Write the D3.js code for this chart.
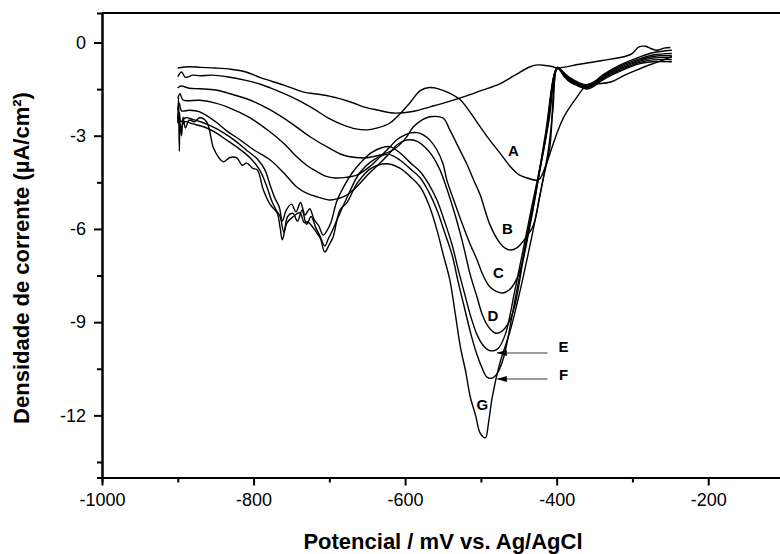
<!DOCTYPE html>
<html>
<head>
<meta charset="utf-8">
<script src="https://cdn.jsdelivr.net/npm/d3@7"></script>
<style>
  body { margin: 0; background: #fff; }
  svg { display: block; font-family: Arial, "Liberation Sans", sans-serif; }
  .axis path, .axis line { stroke: #000; stroke-width: 2; }
  .axis text { font-size: 18px; fill: #000; }
  .curve { fill: none; stroke: #000; stroke-width: 1.4; stroke-linejoin: round; }
</style>
</head>
<body>
<div id="chart"></div>
<script>
// potencial (mV vs Ag/AgCl), densidade de corrente (uA/cm2)
const curveBlank = [[-900,-0.82],[-885,-0.78],[-870,-0.80],[-850,-0.82],[-830,-0.86],[-810,-0.95],[-790,-1.14],[-760,-1.37],[-735,-1.59],[-710,-1.68],[-690,-1.78],[-670,-1.93],[-655,-2.07],[-635,-2.18],[-616,-2.27],[-590,-2.22],[-567,-2.07],[-545,-1.92],[-523,-1.75],[-500,-1.55],[-475,-1.33],[-455,-1.05],[-435,-0.78],[-425,-0.72],[-415,-0.74],[-405,-0.78],[-399,-0.82],[-370,-0.70],[-340,-0.58],[-310,-0.45],[-300,-0.35],[-292,-0.15],[-283,-0.12],[-275,-0.20],[-268,-0.25],[-258,-0.18],[-250,-0.16]];

const curveA = [[-900,-1.10],[-895,-0.95],[-890,-1.12],[-880,-1.05],[-871,-1.07],[-855,-1.05],[-835,-1.10],[-810,-1.22],[-790,-1.35],[-778,-1.46],[-750,-1.75],[-725,-2.07],[-700,-2.45],[-682,-2.65],[-665,-2.78],[-650,-2.81],[-635,-2.74],[-620,-2.59],[-605,-2.25],[-593,-1.92],[-580,-1.55],[-568,-1.45],[-556,-1.49],[-542,-1.62],[-527,-1.85],[-514,-2.25],[-501,-2.71],[-488,-3.15],[-475,-3.55],[-461,-4.00],[-450,-4.25],[-439,-4.36],[-424,-4.42],[-415,-4.00],[-405,-3.29],[-397,-2.75],[-389,-2.33],[-373,-1.75],[-360,-1.36],[-345,-1.33],[-329,-1.27],[-310,-1.05],[-294,-0.88],[-275,-0.70],[-259,-0.56],[-248,-0.45]];

const curveB = [[-900,-1.46],[-896,-1.40],[-885,-1.47],[-871,-1.49],[-850,-1.53],[-835,-1.62],[-805,-1.85],[-778,-2.17],[-750,-2.60],[-725,-3.04],[-700,-3.40],[-682,-3.62],[-665,-3.70],[-650,-3.71],[-633,-3.62],[-616,-3.46],[-600,-3.10],[-589,-2.71],[-577,-2.48],[-567,-2.39],[-550,-2.43],[-541,-2.81],[-530,-3.35],[-518,-3.94],[-510,-4.40],[-501,-4.90],[-488,-5.87],[-475,-6.45],[-468,-6.62],[-461,-6.68],[-452,-6.60],[-444,-6.39],[-431,-5.90],[-422,-4.90],[-411,-3.46],[-405,-2.17],[-399,-0.80],[-390,-0.98],[-382,-1.14],[-370,-1.30],[-360,-1.36],[-350,-1.25],[-339,-1.04],[-316,-0.72],[-290,-0.46],[-273,-0.33],[-248,-0.25]];

const curveC = [[-900,-1.80],[-897,-1.65],[-893,-1.85],[-871,-1.86],[-850,-1.95],[-835,-2.07],[-805,-2.42],[-778,-2.88],[-760,-3.25],[-743,-3.68],[-730,-3.95],[-716,-4.16],[-705,-4.30],[-692,-4.36],[-678,-4.34],[-663,-4.26],[-648,-4.02],[-633,-3.68],[-620,-3.36],[-611,-3.13],[-600,-2.97],[-593,-2.91],[-584,-2.90],[-576,-2.97],[-567,-3.15],[-558,-3.46],[-550,-3.90],[-545,-4.42],[-534,-5.20],[-523,-5.94],[-514,-6.50],[-505,-7.00],[-497,-7.50],[-488,-7.87],[-479,-8.02],[-471,-8.06],[-465,-8.00],[-459,-7.87],[-448,-7.32],[-435,-5.87],[-422,-4.10],[-410,-2.49],[-399,-0.82],[-390,-1.00],[-382,-1.18],[-370,-1.33],[-360,-1.40],[-350,-1.28],[-339,-1.08],[-316,-0.76],[-290,-0.52],[-273,-0.40],[-248,-0.35]];

const curveD = [[-900,-2.17],[-898,-1.95],[-895,-2.20],[-885,-2.18],[-871,-2.23],[-850,-2.55],[-835,-2.85],[-818,-3.13],[-800,-3.45],[-778,-3.78],[-760,-4.20],[-743,-4.65],[-730,-4.85],[-716,-4.97],[-699,-5.07],[-688,-5.02],[-677,-4.91],[-663,-4.62],[-648,-4.22],[-633,-3.88],[-620,-3.55],[-611,-3.30],[-600,-3.15],[-593,-3.13],[-584,-3.18],[-574,-3.36],[-564,-3.65],[-554,-4.10],[-545,-4.70],[-534,-5.55],[-524,-6.45],[-514,-7.48],[-505,-8.20],[-498,-8.77],[-490,-9.15],[-481,-9.35],[-474,-9.32],[-468,-9.19],[-461,-8.90],[-455,-8.45],[-442,-6.68],[-428,-4.91],[-415,-2.97],[-399,-0.85],[-390,-1.02],[-382,-1.20],[-370,-1.35],[-360,-1.42],[-350,-1.30],[-339,-1.10],[-316,-0.80],[-290,-0.56],[-273,-0.45],[-248,-0.42]];

const curveE = [[-900,-2.45],[-898,-2.25],[-896,-2.55],[-890,-2.42],[-880,-2.48],[-870,-2.55],[-855,-2.70],[-840,-2.90],[-825,-3.15],[-810,-3.45],[-795,-3.75],[-785,-4.10],[-778,-4.60],[-772,-5.00],[-766,-5.30],[-762,-5.75],[-757,-5.40],[-750,-5.20],[-744,-5.45],[-738,-5.15],[-732,-5.55],[-726,-5.35],[-720,-5.70],[-714,-5.90],[-708,-6.20],[-703,-6.05],[-698,-5.80],[-690,-5.10],[-680,-4.60],[-670,-4.20],[-660,-3.90],[-645,-3.55],[-630,-3.38],[-620,-3.35],[-607,-3.55],[-594,-3.85],[-580,-4.16],[-569,-4.55],[-558,-5.07],[-548,-5.75],[-538,-6.51],[-530,-7.30],[-521,-8.13],[-513,-8.85],[-505,-9.41],[-497,-9.75],[-490,-9.90],[-483,-9.92],[-477,-9.84],[-468,-9.41],[-455,-7.96],[-435,-5.55],[-415,-3.13],[-399,-0.80],[-390,-1.05],[-382,-1.22],[-370,-1.38],[-360,-1.45],[-350,-1.32],[-339,-1.13],[-316,-0.84],[-290,-0.60],[-273,-0.50],[-248,-0.48]];

const curveF = [[-900,-2.60],[-898,-2.35],[-896,-2.75],[-891,-2.55],[-880,-2.62],[-865,-2.72],[-850,-2.90],[-835,-3.15],[-820,-3.40],[-805,-3.70],[-792,-4.10],[-783,-4.60],[-776,-5.10],[-770,-5.40],[-765,-5.60],[-760,-6.10],[-755,-5.60],[-748,-5.50],[-742,-5.75],[-736,-5.40],[-730,-5.85],[-724,-5.60],[-718,-5.95],[-712,-6.25],[-706,-6.55],[-701,-6.30],[-695,-6.00],[-688,-5.60],[-675,-4.90],[-660,-4.20],[-640,-3.75],[-622,-3.60],[-607,-3.78],[-594,-4.05],[-580,-4.36],[-569,-4.80],[-558,-5.39],[-548,-6.10],[-538,-6.84],[-530,-7.70],[-521,-8.61],[-513,-9.40],[-505,-10.06],[-498,-10.50],[-492,-10.77],[-485,-10.80],[-479,-10.67],[-471,-10.22],[-455,-8.29],[-435,-5.71],[-415,-3.13],[-399,-0.80],[-390,-1.08],[-382,-1.25],[-370,-1.40],[-360,-1.48],[-350,-1.36],[-339,-1.16],[-316,-0.88],[-290,-0.64],[-273,-0.56],[-248,-0.55]];

const curveG = [[-900,-2.55],[-899,-1.75],[-898,-3.50],[-897,-2.60],[-895,-3.00],[-893,-2.40],[-890,-2.75],[-885,-2.50],[-878,-2.55],[-871,-2.42],[-862,-2.55],[-853,-3.39],[-846,-3.70],[-840,-3.84],[-831,-3.70],[-822,-3.71],[-815,-3.95],[-809,-3.88],[-801,-4.05],[-795,-4.10],[-787,-4.75],[-778,-5.22],[-769,-5.48],[-765,-5.95],[-762,-6.35],[-756,-5.81],[-748,-5.61],[-739,-5.48],[-733,-5.80],[-729,-5.77],[-721,-5.97],[-716,-6.15],[-712,-6.29],[-706,-6.74],[-700,-6.50],[-695,-6.26],[-686,-5.39],[-677,-5.16],[-663,-4.52],[-645,-4.05],[-625,-3.90],[-607,-4.04],[-594,-4.30],[-580,-4.65],[-569,-5.20],[-558,-6.03],[-550,-6.80],[-541,-7.64],[-534,-8.70],[-527,-9.80],[-520,-10.60],[-514,-11.41],[-507,-12.00],[-501,-12.57],[-494,-12.72],[-490,-12.25],[-485,-11.41],[-475,-10.32],[-461,-9.25],[-448,-7.96],[-431,-6.03],[-418,-4.42],[-409,-3.36],[-399,-0.82],[-390,-1.10],[-382,-1.28],[-370,-1.42],[-360,-1.50],[-350,-1.40],[-339,-1.20],[-316,-0.92],[-290,-0.68],[-273,-0.62],[-248,-0.62]];

const curves = [curveBlank, curveA, curveB, curveC, curveD, curveE, curveF, curveG];

// curve letters and where they sit (data units)
const labelText = ['A', 'B', 'C', 'D', 'E', 'F', 'G'];
const labelX = [-457, -465, -477, -484, -391, -391, -498];
const labelY = [-3.46, -5.97, -7.39, -8.77, -9.77, -10.67, -11.64];

// arrows for E and F
const arrowY = [-9.99, -10.83];
const arrowFrom = -412;
const arrowTo = -479;

const xTicks = [-1000, -800, -600, -400, -200];
const xMinor = [-900, -700, -500, -300];
const yTicks = [0, -3, -6, -9, -12];
const yMinor = [-1.5, -4.5, -7.5, -10.5, -13.5];

const W = 780, H = 554;
const mLeft = 102, mTop = 13, mBottom = 477.5, mRight = 784;

const svg = d3.select('#chart').append('svg')
  .attr('width', W)
  .attr('height', H);

const x = d3.scaleLinear().domain([-1000, -100]).range([mLeft, mRight]);
const y = d3.scaleLinear().domain([-14, 0.95]).range([mBottom, mTop]);

// minor ticks
svg.append('g')
  .attr('class', 'axis')
  .attr('transform', `translate(0,${mBottom})`)
  .call(d3.axisBottom(x).tickValues(xMinor).tickSize(5).tickFormat(''));
svg.append('g')
  .attr('class', 'axis')
  .attr('transform', `translate(${mLeft},0)`)
  .call(d3.axisLeft(y).tickValues(yMinor).tickSize(5).tickFormat(''));

svg.append('g')
  .attr('class', 'axis')
  .attr('transform', `translate(0,${mBottom})`)
  .call(d3.axisBottom(x).tickValues(xTicks).tickSize(8).tickPadding(8).tickSizeOuter(0)
    .tickFormat(d => String(d)));

svg.append('g')
  .attr('class', 'axis')
  .attr('transform', `translate(${mLeft},0)`)
  .call(d3.axisLeft(y).tickValues(yTicks).tickSize(8).tickPadding(8).tickSizeOuter(0)
    .tickFormat(d => String(d)));

// top frame
svg.append('line')
  .attr('x1', mLeft).attr('x2', mRight)
  .attr('y1', mTop).attr('y2', mTop)
  .attr('stroke', '#000').attr('stroke-width', 2);

const line = d3.line()
  .x(d => x(d[0]))
  .y(d => y(d[1]))
  .curve(d3.curveCatmullRom.alpha(0.5));

svg.selectAll('.curve')
  .data(curves)
  .enter().append('path')
  .attr('class', 'curve')
  .attr('d', line);

svg.append('defs').append('marker')
  .attr('id', 'head')
  .attr('viewBox', '0 0 10 6')
  .attr('refX', 10).attr('refY', 3)
  .attr('markerWidth', 10).attr('markerHeight', 6)
  .attr('markerUnits', 'userSpaceOnUse')
  .attr('orient', 'auto')
  .append('path')
  .attr('d', 'M0,0 L10,3 L0,6 Z')
  .attr('fill', '#000');

svg.selectAll('.arrow')
  .data(arrowY)
  .enter().append('line')
  .attr('class', 'arrow')
  .attr('x1', x(arrowFrom)).attr('x2', x(arrowTo))
  .attr('y1', d => y(d)).attr('y2', d => y(d))
  .attr('stroke', '#7a7a7a')
  .attr('stroke-width', 1.5)
  .attr('marker-end', 'url(#head)');

svg.selectAll('.lbl')
  .data(labelText)
  .enter().append('text')
  .attr('class', 'lbl')
  .attr('x', (d, i) => x(labelX[i]))
  .attr('y', (d, i) => y(labelY[i]))
  .attr('text-anchor', 'middle')
  .attr('dominant-baseline', 'central')
  .attr('font-size', 15)
  .attr('font-weight', 'bold')
  .text(d => d);

svg.append('text')
  .attr('x', (mLeft + mRight) / 2)
  .attr('y', 549)
  .attr('text-anchor', 'middle')
  .attr('font-size', 22)
  .attr('font-weight', 'bold')
  .text('Potencial / mV vs. Ag/AgCl');

svg.append('text')
  .attr('transform', 'translate(21,258) rotate(-90)')
  .attr('text-anchor', 'middle')
  .attr('dominant-baseline', 'central')
  .attr('font-size', 22)
  .attr('font-weight', 'bold')
  .text('Densidade de corrente (µA/cm²)');
</script>
</body>
</html>
